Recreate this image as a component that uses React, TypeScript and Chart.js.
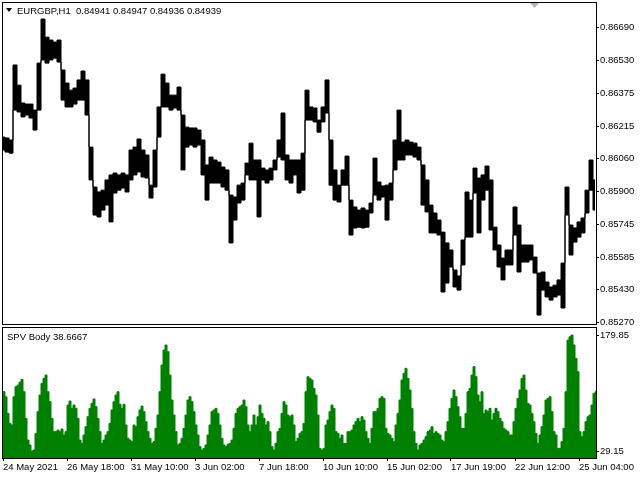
import React, { useEffect, useRef } from "react";
import { Chart, registerables } from "chart.js";

Chart.register(...registerables);

// ---------- text ----------
const symbolTitle = "EURGBP,H1";
const ohlcText = ["0.84941", "0.84947", "0.84936", "0.84939"];
const indicatorTitle = "SPV Body 38.6667";

// ---------- axes ----------
const timeLabels = [
  "24 May 2021", "26 May 18:00", "31 May 10:00", "3 Jun 02:00", "7 Jun 18:00",
  "10 Jun 10:00", "15 Jun 02:00", "17 Jun 19:00", "22 Jun 12:00", "25 Jun 04:00",
];
const timeLabelBars = [1, 65, 129, 193, 257, 321, 385, 449, 513, 577];
const priceTicks = [0.8669, 0.8653, 0.86375, 0.86215, 0.8606, 0.859, 0.85745, 0.85585, 0.8543, 0.8527];
const spvTicks = [29.15, 179.85];

const BAR_MAX = 594;
const PRICE_MIN = 0.85264;
const PRICE_MAX = 0.86813;
const SPV_MIN = 21.0;
const SPV_MAX = 190.2;

// ---------- price (sampled every 4 H1 bars: high / low of the group) ----------
const PRICE_START = 1;
const PRICE_STEP = 4;
const priceHigh = [
  0.86163, 0.86159, 0.86149, 0.8651, 0.86413, 0.86327, 0.86322, 0.86322, 0.86293, 0.86519,
  0.86731, 0.86644, 0.8663, 0.8662, 0.8663, 0.86486, 0.86423, 0.86389, 0.86399, 0.86438,
  0.86481, 0.86438, 0.86115, 0.85923, 0.85899, 0.85908, 0.85957, 0.85981, 0.8599, 0.85981,
  0.8599, 0.85981, 0.86101, 0.86115, 0.86154, 0.86101, 0.86077, 0.85932, 0.86101, 0.86308,
  0.86466, 0.86423, 0.86365, 0.86365, 0.86404, 0.86269, 0.86211, 0.86207, 0.86207, 0.86197,
  0.86149, 0.86029, 0.86067, 0.86053, 0.86043, 0.86019, 0.86005, 0.85884, 0.85875, 0.85932,
  0.85942, 0.86038, 0.86134, 0.86053, 0.86053, 0.86014, 0.86005, 0.86014, 0.86053, 0.86149,
  0.86279, 0.86077, 0.86053, 0.86053, 0.86053, 0.86086, 0.86389, 0.86308, 0.86303, 0.86245,
  0.86308, 0.86438, 0.86149, 0.86005, 0.85932, 0.86005, 0.86072, 0.8586, 0.85827, 0.85812,
  0.85822, 0.85812, 0.85846, 0.86062, 0.85947, 0.85928, 0.85932, 0.85942, 0.86149, 0.86293,
  0.86139, 0.86149, 0.86139, 0.86134, 0.86115, 0.86029, 0.85957, 0.85836, 0.85798, 0.85764,
  0.85706, 0.85654, 0.8562, 0.85524, 0.85495, 0.85668, 0.85899, 0.8586, 0.86014, 0.85966,
  0.85981, 0.86024, 0.85957, 0.8573, 0.85644, 0.85581, 0.8562, 0.8562, 0.85827, 0.8574,
  0.85644, 0.85644, 0.85644, 0.85586, 0.85509, 0.85514, 0.85466, 0.85442, 0.85451, 0.85476,
  0.85557, 0.85923, 0.8574, 0.85726, 0.85755, 0.85774, 0.85908, 0.86053, 0.85957,
];
const priceLow = [
  0.86101, 0.86091, 0.86086, 0.86293, 0.86284, 0.8626, 0.86269, 0.86255, 0.86197, 0.86293,
  0.86534, 0.86519, 0.86534, 0.86543, 0.86524, 0.86341, 0.86308, 0.86308, 0.86322, 0.86341,
  0.86341, 0.86269, 0.85957, 0.85788, 0.85779, 0.85812, 0.85836, 0.85755, 0.85894, 0.85908,
  0.85918, 0.85899, 0.85957, 0.85981, 0.85995, 0.85971, 0.85966, 0.8587, 0.85923, 0.86163,
  0.86308, 0.86308, 0.86293, 0.86303, 0.86293, 0.86005, 0.86115, 0.86125, 0.86115, 0.86125,
  0.85981, 0.8586, 0.85942, 0.85942, 0.85942, 0.85923, 0.85908, 0.85654, 0.85764, 0.85846,
  0.8586, 0.85981, 0.85957, 0.85957, 0.85779, 0.85957, 0.85942, 0.85957, 0.86005, 0.86067,
  0.86053, 0.85957, 0.85942, 0.85981, 0.85894, 0.85908, 0.86245, 0.86245, 0.86236, 0.86187,
  0.86236, 0.86279, 0.85932, 0.8586, 0.85851, 0.85932, 0.85932, 0.85692, 0.85726, 0.8573,
  0.85726, 0.8573, 0.85798, 0.85884, 0.8586, 0.85875, 0.85764, 0.8586, 0.86005, 0.86053,
  0.86053, 0.86077, 0.86077, 0.86067, 0.86053, 0.85836, 0.85803, 0.85702, 0.85702, 0.85692,
  0.85418, 0.85461, 0.85538, 0.85442, 0.85427, 0.85548, 0.85682, 0.85682, 0.85894, 0.85702,
  0.8586, 0.85908, 0.85716, 0.8562, 0.85538, 0.85476, 0.85548, 0.85548, 0.85692, 0.85514,
  0.85562, 0.85562, 0.85572, 0.85509, 0.85307, 0.85427, 0.85394, 0.85379, 0.85394, 0.85403,
  0.85341, 0.85788, 0.85596, 0.85658, 0.85682, 0.85702, 0.85798, 0.85908, 0.85812,
];

// ---------- SPV Body indicator (sampled every 2 bars) ----------
const SPV_START = 0;
const SPV_STEP = 2;
const spvValues = [
  104.5, 106.6, 100.0, 78.6, 65.7, 63.6, 100.0, 113.1, 115.0, 119.0,
  122.5, 106.6, 72.2, 44.2, 37.8, 30.0, 31.3, 52.8, 80.8, 102.3,
  117.4, 123.8, 128.1, 106.6, 93.7, 72.2, 55.0, 55.0, 57.1, 55.0,
  58.4, 50.7, 55.0, 89.4, 94.6, 85.1, 89.4, 85.1, 72.2, 44.2,
  39.9, 50.7, 61.4, 74.3, 85.1, 91.6, 97.2, 87.3, 72.2, 55.0,
  39.9, 44.2, 50.7, 55.0, 65.7, 83.0, 93.7, 102.3, 106.6, 90.3,
  85.1, 90.3, 63.6, 46.4, 44.2, 42.1, 63.6, 61.4, 74.3, 83.0,
  88.1, 80.8, 67.9, 55.0, 46.4, 39.9, 42.1, 59.3, 76.5, 106.6,
  141.1, 160.4, 166.9, 158.3, 128.1, 95.9, 76.5, 55.0, 37.8, 39.9,
  46.4, 59.3, 76.5, 95.9, 100.2, 93.7, 80.8, 63.6, 50.7, 35.6,
  31.3, 33.5, 37.8, 50.7, 63.6, 80.8, 83.0, 85.1, 78.6, 63.6,
  46.4, 37.8, 35.6, 38.6, 39.9, 44.2, 59.3, 78.6, 85.1, 87.3,
  89.4, 95.9, 87.3, 63.6, 55.0, 63.6, 76.5, 63.6, 74.3, 89.4,
  78.6, 72.2, 63.6, 67.9, 55.0, 35.6, 31.3, 39.9, 55.0, 59.3,
  78.6, 93.7, 89.4, 76.5, 74.3, 76.5, 63.6, 42.1, 46.4,
  52.8, 55.0, 65.7, 106.6, 126.0, 123.8, 121.7, 110.9, 102.3, 76.5,
  33.5, 31.3, 33.5, 63.6, 70.0, 80.8, 89.4, 85.1, 55.0, 52.8,
  46.4, 50.7, 39.9, 39.9, 55.0, 55.0, 57.1, 63.6, 67.9, 72.2,
  67.9, 74.3, 70.0, 55.0, 46.4, 39.9, 59.3, 80.8, 80.8, 85.1,
  98.0, 100.2, 98.0, 59.3, 52.8, 50.7, 46.4, 42.1, 63.6, 78.6,
  95.9, 121.7, 130.3, 136.8, 123.8, 108.8, 85.1, 55.0, 39.9, 31.3,
  37.8, 39.9, 44.2, 48.5, 55.0, 57.1, 61.4, 52.8, 55.0, 52.8,
  50.7, 44.2, 42.1, 55.0, 67.9, 85.1, 98.0, 108.8, 100.2, 87.3,
  74.3, 59.3, 59.3, 78.6, 106.6, 110.9, 128.1, 138.9, 126.0, 102.3,
  93.7, 106.6, 78.6, 83.0, 80.8, 85.1, 70.0, 78.6, 85.1, 80.8,
  72.2, 67.9, 59.3, 57.1, 55.0, 50.7, 50.7, 67.9, 85.1, 98.0,
  108.8, 123.8, 128.1, 108.8, 91.6, 89.4, 78.6, 67.9, 52.8, 39.9,
  50.7, 61.4, 76.5, 95.9, 98.0, 100.2, 80.8, 55.0, 50.7, 33.5,
  33.5, 42.1, 59.3, 106.6, 173.3, 177.6, 179.85, 166.9, 149.7, 132.4,
  55.0, 48.5, 55.0, 67.9, 74.3, 76.5, 89.4, 104.5, 106.6,
];

const FONT = "'Liberation Sans', Arial, sans-serif";
const FONT_SIZE = 9.5;

const framePlugin = {
  id: "frame",
  afterDraw(chart: any) {
    const { ctx, chartArea } = chart;
    ctx.save();
    ctx.strokeStyle = "#000";
    ctx.lineWidth = 1;
    ctx.strokeRect(chartArea.left + 0.5, chartArea.top + 0.5, chartArea.right - chartArea.left, chartArea.bottom - chartArea.top);
    ctx.restore();
  },
};

const priceHeaderPlugin = {
  id: "priceHeader",
  afterDraw(chart: any) {
    const { ctx } = chart;
    ctx.save();
    ctx.fillStyle = "#000";
    ctx.beginPath();
    ctx.moveTo(6, 8);
    ctx.lineTo(12, 8);
    ctx.lineTo(9, 12);
    ctx.closePath();
    ctx.fill();
    ctx.font = `${FONT_SIZE}px ${FONT}`;
    ctx.textBaseline = "middle";
    ctx.textAlign = "left";
    ctx.fillText(`${symbolTitle}  ${ohlcText.join(" ")}`, 17, 11);
    ctx.fillStyle = "#b4b4b4";
    ctx.beginPath();
    ctx.moveTo(530, 3);
    ctx.lineTo(539, 3);
    ctx.lineTo(534.5, 8);
    ctx.closePath();
    ctx.fill();
    ctx.restore();
  },
};

const spvHeaderPlugin = {
  id: "spvHeader",
  afterDraw(chart: any) {
    const { ctx } = chart;
    ctx.save();
    ctx.fillStyle = "#000";
    ctx.font = `${FONT_SIZE}px ${FONT}`;
    ctx.textBaseline = "middle";
    ctx.textAlign = "left";
    ctx.fillText(indicatorTitle, 7, 11);
    ctx.restore();
  },
};

const fitY = (s: any) => {
  s.width = 44;
  s.paddingTop = 0;
  s.paddingBottom = 0;
};

export default function App() {
  const priceRef = useRef<HTMLCanvasElement | null>(null);
  const spvRef = useRef<HTMLCanvasElement | null>(null);

  useEffect(() => {
    const tickFont = { family: FONT, size: FONT_SIZE };
    const highPts = priceHigh.map((v, i) => ({ x: PRICE_START + i * PRICE_STEP, y: v }));
    const lowPts = priceLow.map((v, i) => ({ x: PRICE_START + i * PRICE_STEP, y: v }));
    const spvPts = spvValues.map((v, i) => ({ x: SPV_START + i * SPV_STEP, y: v }));

    const priceChart = new Chart(priceRef.current as HTMLCanvasElement, {
      type: "line",
      data: {
        datasets: [
          { data: highPts, borderColor: "#000", borderWidth: 1, pointRadius: 0, stepped: "middle", fill: false },
          { data: lowPts, borderColor: "#000", borderWidth: 1, pointRadius: 0, stepped: "middle", fill: "-1", backgroundColor: "#000" },
        ],
      },
      options: {
        responsive: false,
        animation: false,
        events: [],
        layout: { padding: { left: 2, top: 2, bottom: 2, right: 0 } },
        plugins: { legend: { display: false }, tooltip: { enabled: false } },
        scales: {
          x: { type: "linear", display: false, min: 0, max: BAR_MAX },
          y: {
            type: "linear",
            position: "right",
            min: PRICE_MIN,
            max: PRICE_MAX,
            afterFit: fitY,
            afterBuildTicks: (s: any) => { s.ticks = priceTicks.map((v) => ({ value: v })); },
            ticks: {
              autoSkip: false,
              color: "#000",
              font: tickFont,
              padding: 1,
              callback: (v: any) => Number(v).toFixed(5),
            },
            grid: { drawOnChartArea: false, tickLength: 3, color: "#000" },
            border: { display: false },
          },
        },
      } as any,
      plugins: [framePlugin, priceHeaderPlugin],
    });

    const spvChart = new Chart(spvRef.current as HTMLCanvasElement, {
      type: "line",
      data: {
        datasets: [
          {
            data: spvPts,
            borderColor: "#008000",
            borderWidth: 1,
            pointRadius: 0,
            stepped: "middle",
            fill: "start",
            backgroundColor: "#008000",
          },
        ],
      },
      options: {
        responsive: false,
        animation: false,
        events: [],
        layout: { padding: { left: 2, top: 1, bottom: 0, right: 0 } },
        plugins: { legend: { display: false }, tooltip: { enabled: false } },
        scales: {
          x: {
            type: "linear",
            position: "bottom",
            min: 0,
            max: BAR_MAX,
            afterFit: (s: any) => { s.height = 22; s.paddingLeft = 0; s.paddingRight = 0; },
            afterBuildTicks: (s: any) => { s.ticks = timeLabelBars.map((v) => ({ value: v })); },
            ticks: {
              autoSkip: false,
              maxRotation: 0,
              minRotation: 0,
              align: "start",
              color: "#000",
              font: tickFont,
              padding: 1,
              callback: (_v: any, i: number) => timeLabels[i],
            },
            grid: { drawOnChartArea: false, tickLength: 3, color: "#000" },
            border: { display: false },
          },
          y: {
            type: "linear",
            position: "right",
            min: SPV_MIN,
            max: SPV_MAX,
            afterFit: fitY,
            afterBuildTicks: (s: any) => { s.ticks = spvTicks.map((v) => ({ value: v })); },
            ticks: {
              autoSkip: false,
              color: "#000",
              font: tickFont,
              padding: 1,
              callback: (v: any) => Number(v).toFixed(2),
            },
            grid: { drawOnChartArea: false, tickLength: 3, color: "#000" },
            border: { display: false },
          },
        },
      } as any,
      plugins: [framePlugin, spvHeaderPlugin],
    });

    return () => {
      priceChart.destroy();
      spvChart.destroy();
    };
  }, []);

  return (
    <div style={{ position: "fixed", left: 0, top: 0, width: 640, height: 480, background: "#fff", overflow: "hidden" }}>
      <canvas ref={priceRef} width={640} height={326} style={{ position: "absolute", left: 0, top: 0, width: 640, height: 326 }} />
      <canvas ref={spvRef} width={640} height={154} style={{ position: "absolute", left: 0, top: 326, width: 640, height: 154 }} />
    </div>
  );
}
